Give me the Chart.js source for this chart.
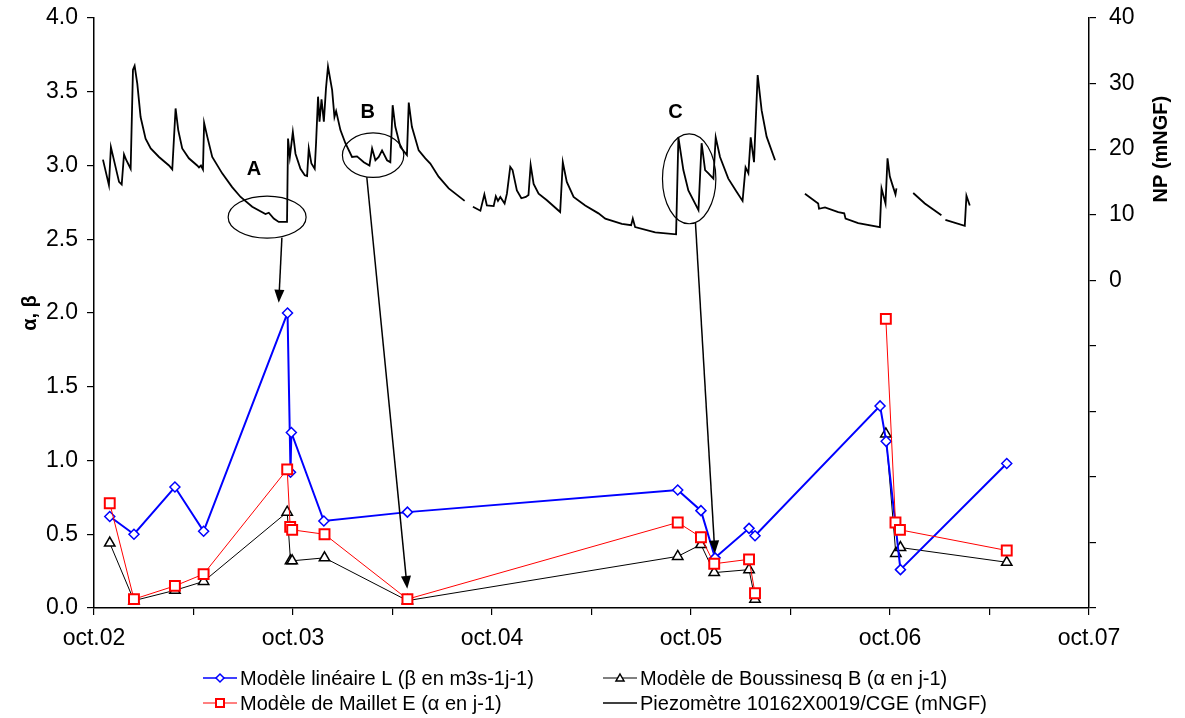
<!DOCTYPE html>
<html>
<head>
<meta charset="utf-8">
<script src="https://cdn.jsdelivr.net/npm/chart.js@4.4.0/dist/chart.umd.min.js"></script>
<style>
  body { margin: 0; background: #fff; }
  #wrap { width: 1185px; height: 718px; position: relative; }
</style>
</head>
<body>
<div id="wrap"><canvas id="chart"></canvas></div>
<script>
// get an object by id
function cObj(id) {
    return document.getElementById(id);
}

// x axis: months counted from october 2002
var xTickLabels = ['oct.02', 'oct.03', 'oct.04', 'oct.05', 'oct.06', 'oct.07'];

// Modèle linéaire L
var linMonths = [0.95, 2.41, 4.88, 6.61, 11.67, 11.85, 11.9, 13.86, 18.9, 35.2, 36.6, 37.45, 39.5, 39.86, 47.4, 47.77, 48.63, 55.04];
var linValues = [0.62, 0.50, 0.82, 0.52, 2.00, 0.92, 1.19, 0.59, 0.65, 0.80, 0.66, 0.34, 0.54, 0.49, 1.37, 1.13, 0.26, 0.98];

// Modèle de Boussinesq B (null = break in the line)
var bouMonths = [0.95, 2.41, 4.88, 6.61, 11.65, 11.85, 11.95, 13.9, 18.9, 35.2, 36.6, 37.4, 39.5, 39.86, 44, 47.75, 48.35, 48.63, 55.04];
var bouValues = [0.44, 0.05, 0.12, 0.18, 0.65, 0.32, 0.32, 0.34, 0.05, 0.35, 0.43, 0.24, 0.26, 0.06, null, 1.18, 0.37, 0.41, 0.31];

// Modèle de Maillet E
var maiMonths = [0.95, 2.41, 4.88, 6.61, 11.65, 11.83, 11.95, 13.9, 18.9, 35.2, 36.6, 37.4, 39.5, 39.86, 44, 47.75, 48.33, 48.6, 55.04];
var maiValues = [0.71, 0.06, 0.15, 0.23, 0.94, 0.55, 0.53, 0.50, 0.06, 0.58, 0.48, 0.30, 0.33, 0.10, null, 1.96, 0.58, 0.53, 0.39];

// Piezomètre (mNGF), right axis
var piezoMonths = [0.54,0.90,1.02,1.51,1.67,1.81,1.95,2.21,2.35,2.45,
    2.61,2.81,3.11,3.42,3.92,4.52,4.72,4.92,5.08,5.32,
    5.72,6.22,6.33,6.45,6.57,6.64,6.83,7.13,7.73,8.33,
    8.84,9.54,10.34,10.54,10.84,11.14,11.64,11.70,11.81,11.99,
    12.15,12.45,12.71,12.85,12.95,13.11,13.31,13.39,13.51,13.60,
    13.72,13.86,13.99,14.11,14.36,14.50,14.60,14.86,15.16,15.56,
    15.86,16.27,16.61,16.77,16.97,17.17,17.37,17.67,17.87,18.01,
    18.17,18.48,18.87,18.98,19.17,19.58,19.98,20.28,20.78,21.39,
    22.35, 22.6,
    22.85,23.30,23.54,23.69,24.10,24.23,24.36,24.50,24.76,24.90,
    25.10,25.24,25.50,25.77,26.04,26.20,26.33,26.51,26.81,27.31,
    28.11,28.27,28.51,28.92,29.62,30.42,30.83,31.83,32.39,32.49,
    32.63,33.84,35.10,35.24,35.54,35.84,36.45,36.64,36.85,37.05,
    37.35,37.49,37.75,38.25,38.75,39.11,39.29,39.46,39.60,39.80,
    40.02,40.26,40.56,41.07, 42.0,
    42.87,43.67,43.72,44.08,44.88,45.24,45.32,46.08,47.39,47.49,
    47.73,47.85,47.99,48.19,48.33,48.39, 48.9,
    49.40,50.10,51.10, 51.2,
    51.34,52.51,52.61,52.81];
var piezoLevels = [18.4,14.5,20.3,15.0,14.6,19.2,18.3,17.0,32.1,32.7,
    30.0,24.9,21.6,20.1,18.8,17.5,16.9,26.2,22.9,20.1,
    18.6,17.5,17.2,17.5,16.9,24.0,21.9,18.8,16.3,14.2,
    12.7,11.2,10.1,10.3,9.4,8.9,8.9,21.6,18.8,22.6,
    19.3,17.0,16.0,15.9,20.1,17.8,17.0,20.9,28.0,24.2,
    27.6,24.2,29.3,32.6,29.0,24.9,25.8,22.9,20.9,18.8,
    18.9,18.0,17.5,20.1,18.3,18.8,19.8,18.3,18.0,26.7,
    23.4,20.3,19.1,27.1,23.4,19.8,18.6,17.8,15.8,14.0,
    12.1, null,
    11.2,10.6,13.1,11.4,11.3,12.8,12.1,12.7,11.7,13.2,
    17.3,16.8,13.7,12.5,12.7,13.0,17.6,14.7,13.2,12.2,
    10.4,18.0,15.0,12.7,11.4,10.2,9.4,8.6,8.4,9.4,
    8.1,7.3,7.0,21.8,16.8,13.7,10.7,20.9,16.8,16.3,
    15.5,21.8,18.8,15.5,13.5,12.1,17.2,16.3,21.8,18.0,
    31.3,25.9,21.9,18.3, null,
    13.2,11.7,10.9,11.1,10.4,10.2,9.4,8.7,8.1,14.0,
    11.7,18.6,15.8,14.2,13.1,14.0, null,
    13.3,11.7,9.9, null,
    9.2,8.3,12.9,11.4];

// annotations A, B, C (months / left axis values)
var annotLetters = ['A', 'B', 'C'];
var letterMonths = [9.64, 16.5, 35.06];
var letterValues = [2.97, 3.36, 3.36];
var ellipseMonths = [10.44, 16.83, 35.89];
var ellipseValues = [2.65, 3.07, 2.91];
var ellipseRadMonths = [2.35, 1.85, 1.61];
var ellipseRadValues = [0.142, 0.151, 0.305];
var arrowFromMonths = [11.33, 16.45, 36.27];
var arrowFromValues = [2.51, 2.92, 2.61];
var arrowToMonths = [11.14, 18.89, 37.44];
var arrowToValues = [2.07, 0.13, 0.37];

var legendLabels = [
    'Modèle linéaire L (β en m3s-1j-1)',
    'Modèle de Boussinesq B (α en j-1)',
    'Modèle de Maillet E (α en j-1)',
    'Piezomètre 10162X0019/CGE (mNGF)'
];

var FONT = "'Liberation Sans', Arial, sans-serif";

function toPoints(xs, ys) {
    var pts = [];
    for (let i = 0; i < xs.length; i++) {
        pts.push({ x: xs[i], y: ys[i] });
    }
    return pts;
}

function drawMarker(ctx, style, x, y, color) {
    ctx.save();
    ctx.strokeStyle = color;
    ctx.fillStyle = '#fff';
    ctx.lineWidth = style == 'rect' ? 2 : 1.5;
    ctx.beginPath();
    if (style == 'rectRot') {
        ctx.moveTo(x, y - 4); ctx.lineTo(x + 4, y); ctx.lineTo(x, y + 4); ctx.lineTo(x - 4, y); ctx.closePath();
    } else if (style == 'rect') {
        ctx.rect(x - 4, y - 4, 8, 8);
    } else if (style == 'triangle') {
        ctx.moveTo(x, y - 4); ctx.lineTo(x + 4, y + 3); ctx.lineTo(x - 4, y + 3); ctx.closePath();
    }
    ctx.fill();
    ctx.stroke();
    ctx.restore();
}

var extrasPlugin = {
    id: 'extras',
    afterDatasetsDraw: function(chart) {
        var ctx = chart.ctx;
        var xs = chart.scales.x, ys = chart.scales.y, y2 = chart.scales.y2;
        ctx.save();
        ctx.strokeStyle = '#000';
        ctx.fillStyle = '#000';
        // ellipses
        ctx.lineWidth = 1.2;
        for (let i = 0; i < annotLetters.length; i++) {
            var cx = xs.getPixelForValue(ellipseMonths[i]);
            var cy = ys.getPixelForValue(ellipseValues[i]);
            var rx = xs.getPixelForValue(ellipseMonths[i] + ellipseRadMonths[i]) - cx;
            var ry = cy - ys.getPixelForValue(ellipseValues[i] + ellipseRadValues[i]);
            ctx.beginPath();
            ctx.ellipse(cx, cy, rx, ry, 0, 0, Math.PI * 2);
            ctx.stroke();
        }
        // arrows
        ctx.lineWidth = 1.5;
        for (let i = 0; i < annotLetters.length; i++) {
            var x1 = xs.getPixelForValue(arrowFromMonths[i]), y1 = ys.getPixelForValue(arrowFromValues[i]);
            var x2 = xs.getPixelForValue(arrowToMonths[i]), y2p = ys.getPixelForValue(arrowToValues[i]);
            var ang = Math.atan2(y2p - y1, x2 - x1);
            ctx.beginPath();
            ctx.moveTo(x1, y1);
            ctx.lineTo(x2 - 10 * Math.cos(ang), y2p - 10 * Math.sin(ang));
            ctx.stroke();
            ctx.beginPath();
            ctx.moveTo(x2, y2p);
            ctx.lineTo(x2 - 13 * Math.cos(ang) + 5 * Math.sin(ang), y2p - 13 * Math.sin(ang) - 5 * Math.cos(ang));
            ctx.lineTo(x2 - 13 * Math.cos(ang) - 5 * Math.sin(ang), y2p - 13 * Math.sin(ang) + 5 * Math.cos(ang));
            ctx.closePath();
            ctx.fill();
        }
        // letters
        ctx.font = 'bold 20px ' + FONT;
        ctx.textAlign = 'center';
        ctx.textBaseline = 'middle';
        for (let i = 0; i < annotLetters.length; i++) {
            ctx.fillText(annotLetters[i], xs.getPixelForValue(letterMonths[i]), ys.getPixelForValue(letterValues[i]));
        }
        // axis titles
        ctx.save();
        ctx.translate(30, (ys.top + ys.bottom) / 2);
        ctx.rotate(-Math.PI / 2);
        ctx.fillText('α, β', 0, 0);
        ctx.restore();
        ctx.save();
        ctx.translate(1161, y2.getPixelForValue(20));
        ctx.rotate(-Math.PI / 2);
        ctx.fillText('NP (mNGF)', 0, 0);
        ctx.restore();
        // legend
        var cols = [203, 603];
        var rows = [678, 703];
        var colors = ['#0000ff', '#000000', '#ff0000', '#000000'];
        var markers = ['rectRot', 'triangle', 'rect', null];
        var widths = [1.5, 1, 1, 1.5];
        ctx.font = '20px ' + FONT;
        ctx.textAlign = 'left';
        for (let i = 0; i < legendLabels.length; i++) {
            var lx = cols[i % 2], ly = rows[Math.floor(i / 2)];
            ctx.strokeStyle = colors[i];
            ctx.lineWidth = widths[i];
            ctx.beginPath();
            ctx.moveTo(lx, ly);
            ctx.lineTo(lx + 34, ly);
            ctx.stroke();
            if (markers[i]) drawMarker(ctx, markers[i], lx + 17, ly, colors[i]);
            ctx.fillStyle = '#000';
            ctx.fillText(legendLabels[i], lx + 37, ly + 1);
        }
        ctx.restore();
    }
};

var tickFont = { family: FONT, size: 23 };
var axisGrid = { display: true, drawOnChartArea: false, drawTicks: true, tickLength: 7, color: '#000', lineWidth: 1.2 };
var axisBorder = { display: true, color: '#000', width: 1.5 };

// keep the plot box fixed, whatever the label sizes
function fixVertical(width) {
    return function(scale) {
        scale.width = width;
        scale.paddingTop = 0;
        scale.paddingBottom = 0;
    };
}

var myChart = new Chart(cObj('chart'), {
    type: 'line',
    data: {
        datasets: [{
            label: legendLabels[0],
            data: toPoints(linMonths, linValues),
            yAxisID: 'y',
            borderColor: '#0000ff',
            borderWidth: 2,
            pointStyle: 'rectRot',
            pointRadius: 5,
            pointBorderWidth: 1.5,
            pointBackgroundColor: '#fff',
            pointBorderColor: '#0000ff',
            order: 1
        }, {
            label: legendLabels[1],
            data: toPoints(bouMonths, bouValues),
            yAxisID: 'y',
            borderColor: '#000',
            borderWidth: 1,
            pointStyle: 'triangle',
            pointRadius: 6,
            pointBorderWidth: 1.5,
            pointBackgroundColor: '#fff',
            pointBorderColor: '#000',
            order: 2
        }, {
            label: legendLabels[2],
            data: toPoints(maiMonths, maiValues),
            yAxisID: 'y',
            borderColor: '#ff0000',
            borderWidth: 1,
            pointStyle: 'rect',
            pointRadius: 7,
            pointBorderWidth: 2,
            pointBackgroundColor: '#fff',
            pointBorderColor: '#ff0000',
            order: 0
        }, {
            label: legendLabels[3],
            data: toPoints(piezoMonths, piezoLevels),
            yAxisID: 'y2',
            borderColor: '#000',
            borderWidth: 1.8,
            pointRadius: 0,
            order: 3
        }]
    },
    options: {
        responsive: true,
        maintainAspectRatio: false,
        animation: false,
        spanGaps: false,
        layout: { padding: { top: 18, left: 0, right: 0, bottom: 0 } },
        elements: { line: { tension: 0 } },
        scales: {
            x: {
                type: 'linear',
                min: 0,
                max: 60,
                grid: axisGrid,
                border: axisBorder,
                afterFit: function(scale) { scale.height = 110; },
                ticks: {
                    stepSize: 6,
                    autoSkip: false,
                    maxRotation: 0,
                    padding: 10,
                    color: '#000',
                    font: tickFont,
                    callback: function(value) {
                        return value % 12 === 0 ? xTickLabels[value / 12] : '';
                    }
                }
            },
            y: {
                position: 'left',
                min: 0,
                max: 4,
                grid: axisGrid,
                border: axisBorder,
                afterFit: fixVertical(94),
                ticks: {
                    stepSize: 0.5,
                    padding: 9,
                    color: '#000',
                    font: tickFont,
                    callback: function(value) { return value.toFixed(1); }
                }
            },
            y2: {
                position: 'right',
                min: -50,
                max: 40,
                grid: axisGrid,
                border: axisBorder,
                afterFit: fixVertical(96),
                ticks: {
                    stepSize: 10,
                    padding: 13,
                    color: '#000',
                    font: tickFont,
                    callback: function(value) { return value >= 0 ? value : ''; }
                }
            }
        },
        plugins: {
            legend: { display: false },
            tooltip: { enabled: false },
            title: { display: false }
        }
    },
    plugins: [extrasPlugin]
});
</script>
</body>
</html>
